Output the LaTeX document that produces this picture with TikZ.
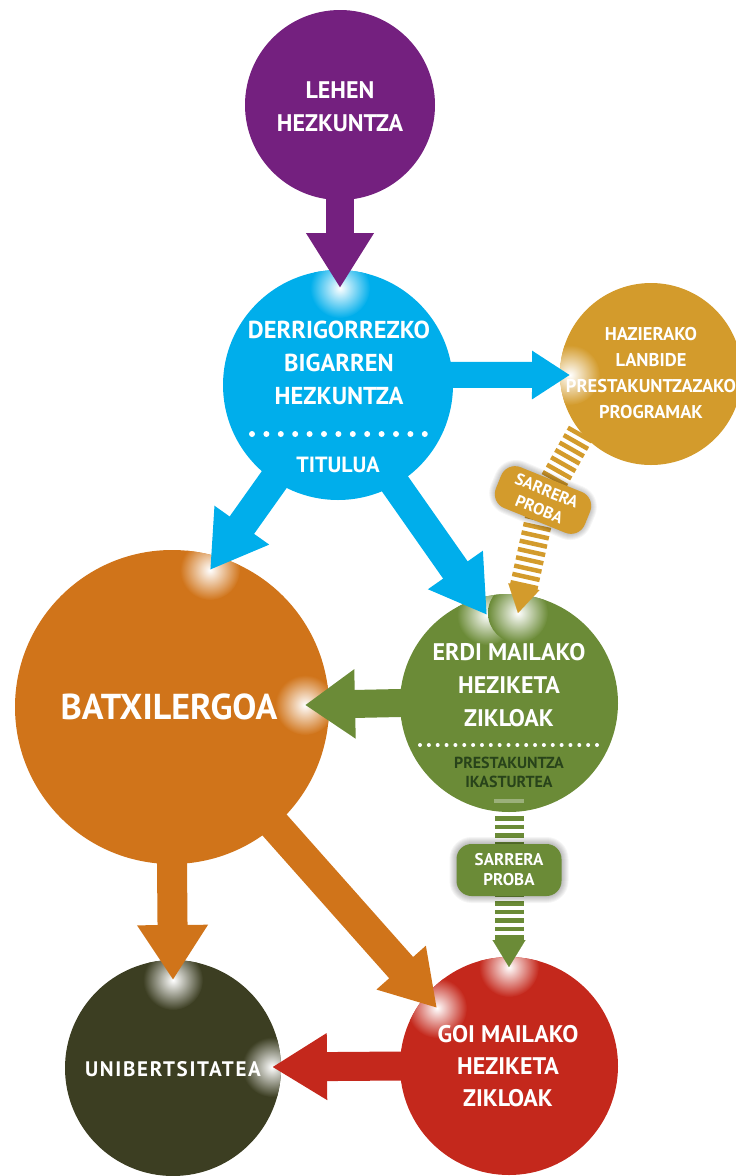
\documentclass[tikz,border=0pt]{standalone}
\usepackage{fontspec}
\setmainfont{PT Sans}
\usetikzlibrary{arrows.meta,calc}
\definecolor{cpurple}{HTML}{74207F}
\definecolor{ccyan}{HTML}{00AEEB}
\definecolor{cgold}{HTML}{D39B2C}
\definecolor{corange}{HTML}{D0741A}
\definecolor{cgreen}{HTML}{6B8B37}
\definecolor{cgreenlt}{HTML}{9BB07A}
\definecolor{cgreendk}{HTML}{28431A}
\definecolor{cdark}{HTML}{3C3E22}
\definecolor{cred}{HTML}{C4281C}
\newcommand\myglow[4]{\begin{scope}\clip (#1) circle (#2pt);\shade[inner color=white, outer color=#3] (#4) circle (30pt);\end{scope}}
\begin{document}
\begin{tikzpicture}[x=1pt,y=1pt,
  circ/.style={circle, inner sep=0pt, minimum size=#1},
  wt/.style={text=white, font=\bfseries\fontsize{#1}{#1}\selectfont, align=center, inner sep=0pt},
  blk/.style n args={3}{line width=#1pt, -{Triangle[length=#2pt,width=#3pt]}, shorten <=-8pt},
  gstripe/.style={line width=#1pt, dash pattern=on 4.5pt off 4pt},
  dots/.style n args={2}{line width=#1pt, line cap=round, dash pattern=on 0pt off #2pt},
  lblbox/.style={rounded corners=15pt, inner sep=0pt, align=center, text=white}
]
\useasboundingbox (0,0) rectangle (736,-1176);
% circles
\node[circ=190pt, fill=cpurple] (leh) at (340,-105) {};
\node[circ=230pt, fill=ccyan] (dbh) at (338,-385) {};
\node[circ=182pt, fill=cgold] (haz) at (651,-374) {};
\node[circ=314pt, fill=corange] (batx) at (172,-707) {};
\node[circ=218pt, fill=cgreen] (erdi) at (509,-703) {};
\node[circ=216pt, fill=cdark] (unib) at (173,-1068) {};
\node[circ=218pt, fill=cred] (goi) at (509,-1066) {};
% tip points
\coordinate (t1) at ($(dbh)+(2,97)$);
\coordinate (t2) at ($(haz)+(-81,-1)$);
\coordinate (t3) at ($(batx)+(38,137)$);
\coordinate (t4) at ($(erdi)+(-22,88)$);
\coordinate (t5) at ($(erdi)+(9,90)$);
\coordinate (t6) at ($(batx)+(133,2)$);
\coordinate (t7) at ($(goi)+(0,99)$);
\coordinate (t8) at ($(unib)+(0,88)$);
\coordinate (t9) at ($(goi)+(-72,58)$);
\coordinate (t10) at ($(unib)+(99,1)$);
% glows
\myglow{dbh}{115}{ccyan}{t1}
\myglow{haz}{91}{cgold}{t2}
\myglow{batx}{157}{corange}{t3}
\myglow{erdi}{109}{cgreen}{t4}
\myglow{erdi}{109}{cgreen}{t5}
\myglow{batx}{157}{corange}{t6}
\myglow{goi}{109}{cred}{t7}
\myglow{unib}{108}{cdark}{t8}
\myglow{goi}{109}{cred}{t9}
\myglow{unib}{108}{cdark}{t10}
% block arrows
\draw[cpurple, blk={28}{55}{64}] (leh.south) -- (t1);
\draw[ccyan, blk={26}{38}{46}] (dbh.5) -- (t2);
\draw[ccyan, blk={30}{55}{63}] (dbh.236) -- (t3);
\draw[ccyan, blk={30}{55}{63}] (dbh.300) -- (t4);
\draw[cgreen, blk={28}{50}{66}] (erdi.180) -- (t6);
\draw[corange, blk={30}{55}{67}] (batx.south) -- (t8);
\draw[corange, blk={32}{54}{62}] (batx.311) -- (t9);
\draw[cred, blk={29}{55}{63}] (goi.180) -- (t10);
% striped arrows
\coordinate (lab1c) at (543,-500);
\coordinate (lab2c) at (509,-870);
\draw[cgold, gstripe=28] (haz.220) -- (lab1c);
\draw[cgold, gstripe=28, shorten >=26pt] (lab1c) -- (t5);
\draw[cgold, line width=0.1pt, -{Triangle[length=27pt,width=32pt]}] ($(t5)!27pt!(lab1c)$) -- (t5);
\fill[cgreenlt] ($(erdi)+(-15,-96)$) rectangle ($(erdi)+(15,-100)$);
\draw[cgreen, gstripe=29, dash phase=4.5pt, shorten >=27pt] (erdi.south) -- (t7);
\draw[cgreen, line width=0.1pt, -{Triangle[length=27pt,width=33pt]}] ($(t7)!27pt!(erdi.south)$) -- (t7);
% label shadows
\foreach \s in {2,4,...,14}{
  \node[rotate=-23, fill=black, opacity=0.04, rounded corners=15+\s/2, minimum width=94+\s, minimum height=42+\s, inner sep=0pt] at (lab1c) {};
  \node[fill=black, opacity=0.04, rounded corners=15+\s/2, minimum width=105+\s, minimum height=52+\s, inner sep=0pt] at (lab2c) {};
}
% labels
\node[lblbox, fill=cgold, rotate=-22, minimum width=96pt, minimum height=44pt, font=\bfseries\fontsize{16.5}{20}\selectfont] (lab1) at (lab1c) {SARRERA\\PROBA};
\node[lblbox, fill=cgreen, minimum width=105pt, minimum height=52pt, font=\bfseries\fontsize{17}{20}\selectfont] (lab2) at (lab2c) {SARRERA\\PROBA};
% texts
\node[wt=24, font=\bfseries\fontsize{24}{33}\selectfont] (lehT) at ($(leh)+(0,-1.5)$) {LEHEN\\HEZKUNTZA};
\node[wt=24, font=\bfseries\fontsize{24.5}{33}\selectfont] (dbhT) at ($(dbh)+(1,22)$) {DERRIGORREZKO\\BIGARREN\\HEZKUNTZA};
\draw[white, dots={6}{14.4}] ($(dbh)+(-86,-49)$) -- ($(dbh)+(87,-49)$);
\node[wt=22] (dbhT2) at ($(dbh)+(0,-80)$) {TITULUA};
\node[wt=18, font=\bfseries\fontsize{18.5}{26}\selectfont] (hazT) at ($(haz)+(0,1)$) {HAZIERAKO\\LANBIDE\\PRESTAKUNTZAZAKO\\PROGRAMAK};
\node[wt=36] (batxT) at ($(batx)+(-3,0)$) {BATXILERGOA};
\node[wt=24, font=\bfseries\fontsize{24}{33}\selectfont] (erdiT) at ($(erdi)+(0,18)$) {ERDI MAILAKO\\HEZIKETA\\ZIKLOAK};
\draw[white, dots={4}{8.85}] ($(erdi)+(-89,-42)$) -- ($(erdi)+(88,-42)$);
\node[wt=16, text=cgreendk, font=\bfseries\fontsize{16}{19}\selectfont] (erdiT2) at ($(erdi)+(0,-69.5)$) {PRESTAKUNTZA\\IKASTURTEA};
\node[wt=21, font=\bfseries\fontsize{21}{21}\selectfont\addfontfeature{LetterSpace=8}] (unibT) at ($(unib)+(0,-1)$) {UNIBERTSITATEA};
\node[wt=24, font=\bfseries\fontsize{24}{32}\selectfont] (goiT) at ($(goi)+(-1,0)$) {GOI MAILAKO\\HEZIKETA\\ZIKLOAK};
\end{tikzpicture}
\end{document}
